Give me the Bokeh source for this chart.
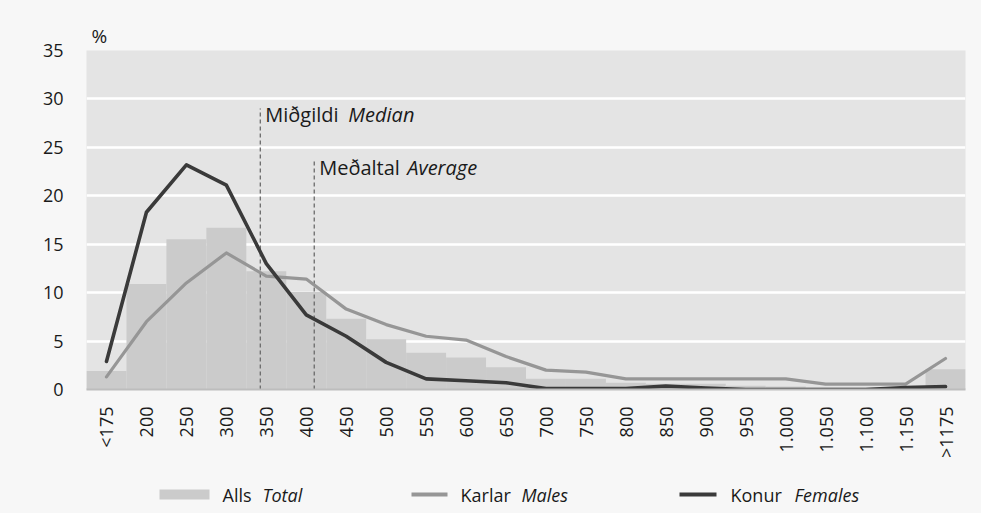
import math
from bokeh.plotting import figure
from bokeh.layouts import column
from bokeh.models import Range1d, FixedTicker, Label, ColumnDataSource
from bokeh.core.properties import value
from bokeh.embed import file_html
from bokeh.resources import INLINE

categories = ["<175", "200", "250", "300", "350", "400", "450", "500", "550", "600", "650",
              "700", "750", "800", "850", "900", "950", "1.000", "1.050", "1.100", "1.150", ">1175"]
total = [1.9, 10.9, 15.5, 16.7, 12.2, 10.1, 7.3, 5.2, 3.8, 3.3, 2.3,
         1.1, 1.1, 0.7, 0.6, 0.6, 0.4, 0.3, 0.2, 0.2, 0.2, 2.1]
males = [1.3, 7.0, 11.0, 14.1, 11.7, 11.4, 8.3, 6.7, 5.5, 5.1, 3.4,
         2.0, 1.8, 1.1, 1.1, 1.1, 1.1, 1.1, 0.55, 0.55, 0.55, 3.2]
females = [2.9, 18.3, 23.2, 21.1, 13.0, 7.7, 5.5, 2.8, 1.1, 0.9, 0.7,
           0.1, 0.1, 0.1, 0.35, 0.15, 0.0, 0.0, 0.0, 0.0, 0.2, 0.3]
y_ticks = [0, 5, 10, 15, 20, 25, 30, 35]
median_value = 342.5
average_value = 410.0
median_top = 29.0
average_top = 23.7

FONT = "Open Sans"
TXT = "#1a1a1a"
BG = "#f7f7f7"
W = 981
H1 = 466
H2 = 47
FL, FR = 86, 965   # frame edges (px)

idx = list(range(len(categories)))
src = ColumnDataSource(dict(x=idx, total=total, males=males, females=females))

def pos(v):
    # category "200" sits at index 1, steps of 50
    return (v - 200.0) / 50.0 + 1.0

p = figure(width=W, height=H1, output_backend="svg", toolbar_location=None,
           x_range=Range1d(-0.5, len(categories) - 0.5), y_range=Range1d(0, 35),
           min_border_left=FL, min_border_right=W - FR, min_border_top=50,
           min_border_bottom=77)
p.background_fill_color = "#e4e4e4"
p.border_fill_color = BG
p.outline_line_color = None

p.title.text = "%"
p.title.align = "left"
p.title.offset = 5
p.title.standoff = 3
p.title.text_font = FONT
p.title.text_font_size = "19px"
p.title.text_font_style = "normal"
p.title.text_color = TXT

p.vbar(x="x", top="total", bottom=0, width=1.0, source=src,
       fill_color="#cbcbcb", line_color=None)

for v, top, dy, t1, t2, off2 in [(median_value, median_top, 0.6, "Miðgildi", "Median", 88),
                                 (average_value, average_top, 0.75, "Meðaltal", "Average", 93)]:
    xp = pos(v)
    p.segment(x0=[xp], y0=[0], x1=[xp], y1=[top], line_color="#6a6a6a",
              line_width=1.3, line_dash="4 3")
    p.add_layout(Label(x=xp, y=top - dy, text=t1, x_offset=5, text_font=FONT,
                       text_font_size="20px", text_color=TXT, text_baseline="middle"))
    p.add_layout(Label(x=xp, y=top - dy, text=t2, x_offset=off2, text_font=FONT,
                       text_font_size="20px", text_font_style="italic",
                       text_color=TXT, text_baseline="middle"))

p.line(x="x", y="males", source=src, line_color="#969696", line_width=3.2,
       line_join="round", line_cap="round")
p.line(x="x", y="females", source=src, line_color="#3a3a3a", line_width=3.6,
       line_join="round", line_cap="round")

p.ygrid.ticker = FixedTicker(ticks=y_ticks)
p.ygrid.grid_line_color = "white"
p.ygrid.grid_line_width = 2.5
p.xgrid.grid_line_color = None

p.yaxis.ticker = FixedTicker(ticks=y_ticks)
p.yaxis.axis_line_color = None
p.yaxis.major_tick_line_color = None
p.yaxis.minor_tick_line_color = None
p.yaxis.major_tick_out = 0
p.yaxis.major_tick_in = 0
p.yaxis.major_label_standoff = 23
p.yaxis.major_label_text_font = FONT
p.yaxis.major_label_text_font_size = "18px"
p.yaxis.major_label_text_color = TXT

p.xaxis.ticker = FixedTicker(ticks=idx)
p.xaxis.major_label_overrides = {i: c for i, c in zip(idx, categories)}
p.xaxis.major_label_orientation = math.pi / 2
p.xaxis.axis_line_color = "#bdbdbd"
p.xaxis.axis_line_width = 2
p.xaxis.major_tick_line_color = None
p.xaxis.minor_tick_line_color = None
p.xaxis.major_tick_out = 0
p.xaxis.major_tick_in = 0
p.xaxis.major_label_standoff = 17
p.xaxis.major_label_text_font = FONT
p.xaxis.major_label_text_font_size = "18px"
p.xaxis.major_label_text_color = TXT

# legend strip (frame aligned with main frame; data coordinates = picture pixels)
legend_names = [("Alls", "Total"), ("Karlar", "Males"), ("Konur", "Females")]
lg = figure(width=W, height=H2, output_backend="svg", toolbar_location=None,
            x_range=Range1d(FL, FR), y_range=Range1d(H1 + H2, H1),
            min_border_left=FL, min_border_right=W - FR, min_border_top=0,
            min_border_bottom=0)
lg.background_fill_color = BG
lg.border_fill_color = BG
lg.outline_line_color = None
lg.axis.visible = False
lg.grid.visible = False

ly = 494
lg.quad(left=[159], right=[209], top=[ly - 5], bottom=[ly + 5],
        fill_color="#cbcbcb", line_color=None)
lg.segment(x0=[411], x1=[447], y0=[ly], y1=[ly], line_color="#969696", line_width=4)
lg.segment(x0=[679], x1=[716], y0=[ly], y1=[ly], line_color="#3a3a3a", line_width=4)

for (w1, w2), x1, x2 in zip(legend_names, [222, 460, 730], [262, 521, 794]):
    lg.text(x=[x1], y=[ly], text=[w1], text_font=value(FONT), text_font_size="18px",
            text_color=TXT, text_baseline="middle", text_align="left")
    lg.text(x=[x2], y=[ly], text=[w2], text_font=value(FONT), text_font_size="18px",
            text_font_style="italic", text_color=TXT, text_baseline="middle",
            text_align="left")

layout = column(p, lg, spacing=0)
layout.styles = {"background-color": BG}
open("out.html", "w").write(file_html(layout, INLINE))
